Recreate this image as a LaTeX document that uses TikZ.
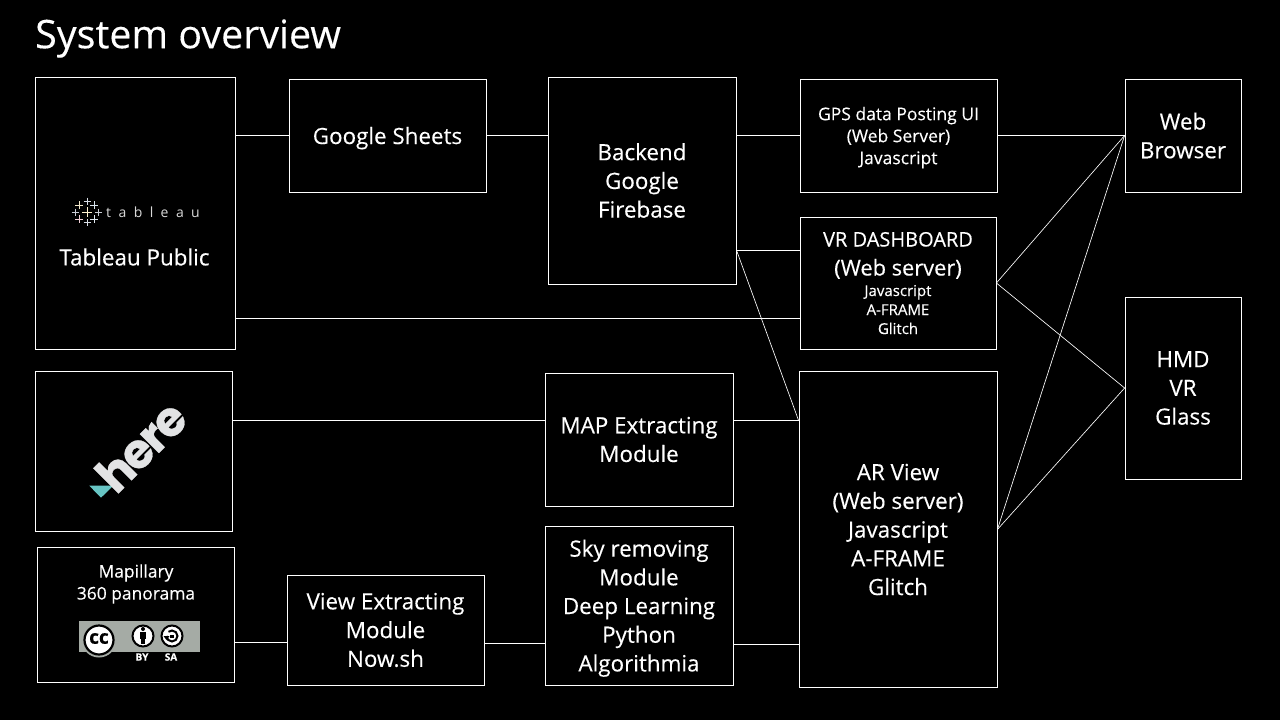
\documentclass[tikz,border=0pt]{standalone}
\usepackage{fontspec}
\setmainfont[FakeBold=0.25]{Open Sans}
\newfontfamily\logofont[FakeBold=0.6]{Poppins}
\newfontfamily\plainfont{Open Sans}
\definecolor{hereteal}{HTML}{67C5C4}
\definecolor{ccgray}{HTML}{A5ABA5}
\definecolor{herewhite}{HTML}{E2E3E4}
\newcommand{\fs}[2]{\fontsize{#1}{#2}\selectfont}
\tikzset{
  box/.style={draw=white,line width=0.8pt,fill=black,text=white,align=center,inner sep=0pt},
  big/.style={font=\fs{22.4}{28.7}},
  link/.style={draw=white,line width=0.65pt},
  lbl/.style={text=white,align=center,inner sep=0pt},
}
\begin{document}
\begin{tikzpicture}[x=1pt,y=-1pt]
\useasboundingbox[fill=black] (0,0) rectangle (1280,720);
\node[lbl,anchor=west,font=\fs{39.4}{40}] (title) at (35,38.5) {System overview};
% boxes
\node[box,minimum width=200pt,minimum height=272pt] (tab) at (135,213) {};
\node[box,big,text depth=0pt,minimum width=197pt,minimum height=113pt] (gs) at (387.5,135.5) {Google Sheets};
\node[box,big,minimum width=188pt,minimum height=207pt] (be) at (642,180.5) {Backend\\Google\\Firebase};
\node[box,text depth=0pt,minimum width=197pt,minimum height=113pt,font=\fs{17.5}{22}] (gps) at (898.5,135.5) {GPS data Posting UI\\(Web Server)\\Javascript};
\node[box,text depth=0pt,minimum width=196pt,minimum height=132pt,font=\fs{15}{19}] (vr) at (898,283) {\fs{20}{19}VR DASHBOARD\\[10pt]\fs{21.8}{19}(Web server)\\[1.5pt]\fs{15}{19}Javascript\\A-FRAME\\Glitch};
\node[box,big,minimum width=116pt,minimum height=113pt] (web) at (1183,135.5) {Web\\Browser};
\node[box,big,minimum width=116pt,minimum height=182pt] (hmd) at (1183,388) {HMD\\VR\\Glass};
\node[box,minimum width=197pt,minimum height=160pt] (here) at (133.5,451) {};
\node[box,big,minimum width=188pt,minimum height=133pt] (map) at (639,439.5) {MAP Extracting\\Module};
\node[box,big,minimum width=198pt,minimum height=316pt] (ar) at (898,529.5) {AR View\\(Web server)\\Javascript\\A-FRAME\\Glitch};
\node[box,minimum width=197pt,minimum height=135pt] (mly) at (135.5,614.5) {};
\node[box,big,minimum width=197pt,minimum height=110pt] (view) at (385.5,630) {View Extracting\\Module\\Now.sh};
\node[box,big,text depth=0pt,minimum width=188pt,minimum height=159pt] (sky) at (639,605.5) {Sky removing\\Module\\Deep Learning\\Python\\Algorithmia};
% connectors
\path (tab.east |- 0,135) coordinate (t1) (tab.east |- 0,318) coordinate (t2);
\draw[link] (t1) -- (gs.west |- t1);
\draw[link] (gs.east |- t1) -- (be.west |- t1);
\draw[link] (be.east |- gps.west) -- (gps.west);
\draw[link] (gps.east) -- (web.west);
\draw[link] (be.east |- 0,250) coordinate (b2) -- (vr.west |- b2);
\draw[link] (t2) -- (vr.west |- t2);
\draw[link] (here.east |- 0,420.5) coordinate (h1) -- (map.west |- h1);
\draw[link] (map.east |- h1) -- (ar.west |- h1) coordinate (a1);
\draw[link] (b2) -- (a1);
\draw[link] (vr.east) -- (web.west);
\draw[link] (vr.east) -- (hmd.west);
\draw[link] (ar.east) -- (web.west);
\draw[link] (ar.east) -- (hmd.west);
\draw[link] (mly.east |- 0,642) coordinate (m1) -- (view.west |- m1);
\draw[link] (view.east |- 0,643) coordinate (v1) -- (sky.west |- v1);
\draw[link] (sky.east |- 0,644) coordinate (s1) -- (ar.west |- s1);
% tableau
\node[lbl,font=\fs{22.4}{26}] (tabtxt) at (134.5,257) {Tableau Public};
\foreach \cx/\cy/\r/\c in {87/212/5/FFF3D0, 87/201/3.5/D8DDE6, 79/205/4/F0E6C8, 94/205/4/D8E4EE, 75/212/3.5/C8CCD4, 98/212/3.5/C8CCD4, 79/219/4/F2D2D8, 94/219/4/E0E8F0, 87/222/3.5/D8DDE6}{
  \definecolor{tcol}{HTML}{\c}
  \draw[draw=tcol,line width=1pt] (\cx-\r,\cy) -- (\cx+\r,\cy) (\cx,\cy-\r) -- (\cx,\cy+\r);
}
\node[lbl,anchor=west,text=white!85!black,font=\plainfont\fs{14}{15}\addfontfeature{LetterSpace=53}] (tablogo) at (106,212) {tableau};
% here
\fill[hereteal] (89.3,485.7) -- (113.3,485.7) -- (101,497.7) -- cycle;
\node[lbl,text=herewhite,rotate=45,font=\logofont\bfseries\fs{48}{48}\addfontfeature{LetterSpace=-5}] (herelogo) at (141,446) {here};
% mapillary
\node[lbl,font=\fs{17.4}{22}] (mlytxt) at (136,584) {Mapillary\\360 panorama};
\fill[ccgray] (79,621) rectangle (200,652);
\fill[ccgray] (99,640) circle (17.5);
\fill[white] (99,640) circle (14.5);
\draw[black,line width=2.2pt] (99,640) circle (14.5);
\node[lbl,text=black,font=\bfseries\fs{19}{19}] (cc) at (99,638.5) {cc};
\filldraw[fill=white,draw=black,line width=2pt] (143,636) circle (10.5);
\fill[black] (143,629) circle (2);
\fill[black] (140,632) rectangle (146,639);
\fill[black] (141,639) rectangle (145,644);
\filldraw[fill=white,draw=black,line width=2pt] (172,636) circle (10.5);
\draw[black,line width=2pt] (166.5,636) arc (180:-130:5.5);
\fill[black] (163.5,636) -- (169.5,636) -- (166.5,640) -- cycle;
\fill[black] (170,634.5) rectangle (174,637.5);
\node[lbl,font=\bfseries\fs{10}{10}] (by) at (142,657) {BY};
\node[lbl,font=\bfseries\fs{10}{10}] (sa) at (171,657) {SA};
\end{tikzpicture}
\end{document}
